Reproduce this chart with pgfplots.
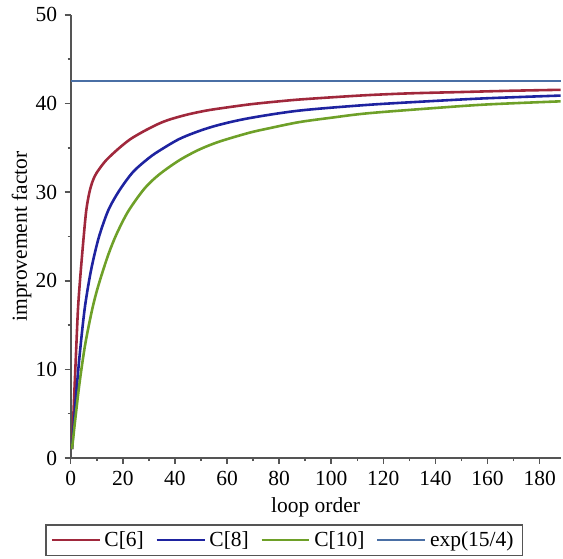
\documentclass[border=0pt]{standalone}
\usepackage{fontspec}
\setmainfont{Liberation Serif}
\usepackage{pgfplots}
\pgfplotsset{compat=1.18}

\definecolor{cSix}{HTML}{A0283C}
\definecolor{cEight}{HTML}{1E23A0}
\definecolor{cTen}{HTML}{6EA028}
\definecolor{cExp}{HTML}{4A6FA5}
\definecolor{axgray}{HTML}{555555}

\begin{document}
\fontsize{10.8}{13}\selectfont
\begin{tikzpicture}
\begin{axis}[
  scale only axis,
  width=246pt, height=222.5pt,
  xmin=0, xmax=188,
  ymin=0, ymax=50,
  axis lines=left,
  axis line style={-, draw=axgray, line width=0.9pt},
  tick style={draw=axgray, line width=0.8pt},
  tick align=outside,
  major tick length=3pt,
  minor tick length=1.6pt,
  xtick={0,20,...,180},
  ytick={0,10,...,50},
  minor tick num=1,
  /pgf/number format/assume math mode=true,
  tick label style={font=\fontsize{10.8}{13}\selectfont},
  label style={font=\fontsize{10.8}{13}\selectfont},
  xlabel={loop order},
  ylabel={improvement factor},
  every axis x label/.style={at={(axis description cs:0.5,-0.1124)},anchor=center},
  every axis y label/.style={at={(axis description cs:-0.1002,0.5)},rotate=90,anchor=center},
  legend columns=4,
  legend style={at={(axis description cs:0.436,-0.1858)}, anchor=center,
    draw=axgray, line width=0.8pt, font=\fontsize{10.8}{13}\selectfont,
    inner xsep=2.5pt, inner ysep=1pt,
    /tikz/every even column/.append style={column sep=4pt}},
  legend image code/.code={\draw[#1, line width=0.9pt] (0pt,0pt) -- (24pt,0pt);},
  clip=false,
]
\addplot[cSix, line width=1.3pt, smooth, tension=0.5] coordinates {
  (0.5,1) (1.2,6) (2,11.5) (2.8,16.8) (3.7,20.5) (5,25) (6,28) (7.2,30)
  (8.5,31.3) (10,32.2) (13.6,33.6) (18.7,35) (23,36) (27.6,36.8)
  (30.2,37.2) (34,37.75) (38,38.2) (44,38.7) (49.3,39.05) (55,39.35)
  (68.5,39.9) (80,40.25) (87.6,40.45) (100,40.7) (114,40.95)
  (130,41.15) (150,41.3) (170,41.45) (188,41.55)
};
\addlegendentry{C[6]}
\addplot[cEight, line width=1.3pt, smooth, tension=0.5] coordinates {
  (0.5,1) (2,6.8) (3.5,11.8) (5.35,16.8) (7.3,20.4) (9,22.8) (11.1,25.2)
  (14.5,28) (18.7,30.2) (24,32.3) (30.2,33.9) (34.7,34.8) (41.7,36.0)
  (49.3,36.9) (57,37.6) (68.5,38.35) (87.6,39.2) (114,39.85)
  (140,40.3) (160,40.6) (188,40.9)
};
\addlegendentry{C[8]}
\addplot[cTen, line width=1.3pt, smooth, tension=0.5] coordinates {
  (0.5,1) (2,5) (3.5,8.7) (5.5,12.7) (7.9,16.3) (9.7,18.5) (11.7,20.5)
  (14.5,23) (17.5,25.2) (22,27.8) (28.3,30.4) (34,32) (41.7,33.6)
  (49.3,34.8) (57,35.7) (68.5,36.7) (76,37.2) (87.6,37.9) (100,38.4)
  (114,38.9) (140,39.5) (160,39.9) (188,40.25)
};
\addlegendentry{C[10]}
\addplot[cExp, line width=0.9pt] coordinates {(0,42.52) (188,42.52)};
\addlegendentry{exp(15/4)}
\end{axis}
\path[use as bounding box] (-35.5pt,-50.5pt) rectangle (246pt,230pt);
\end{tikzpicture}
\end{document}
